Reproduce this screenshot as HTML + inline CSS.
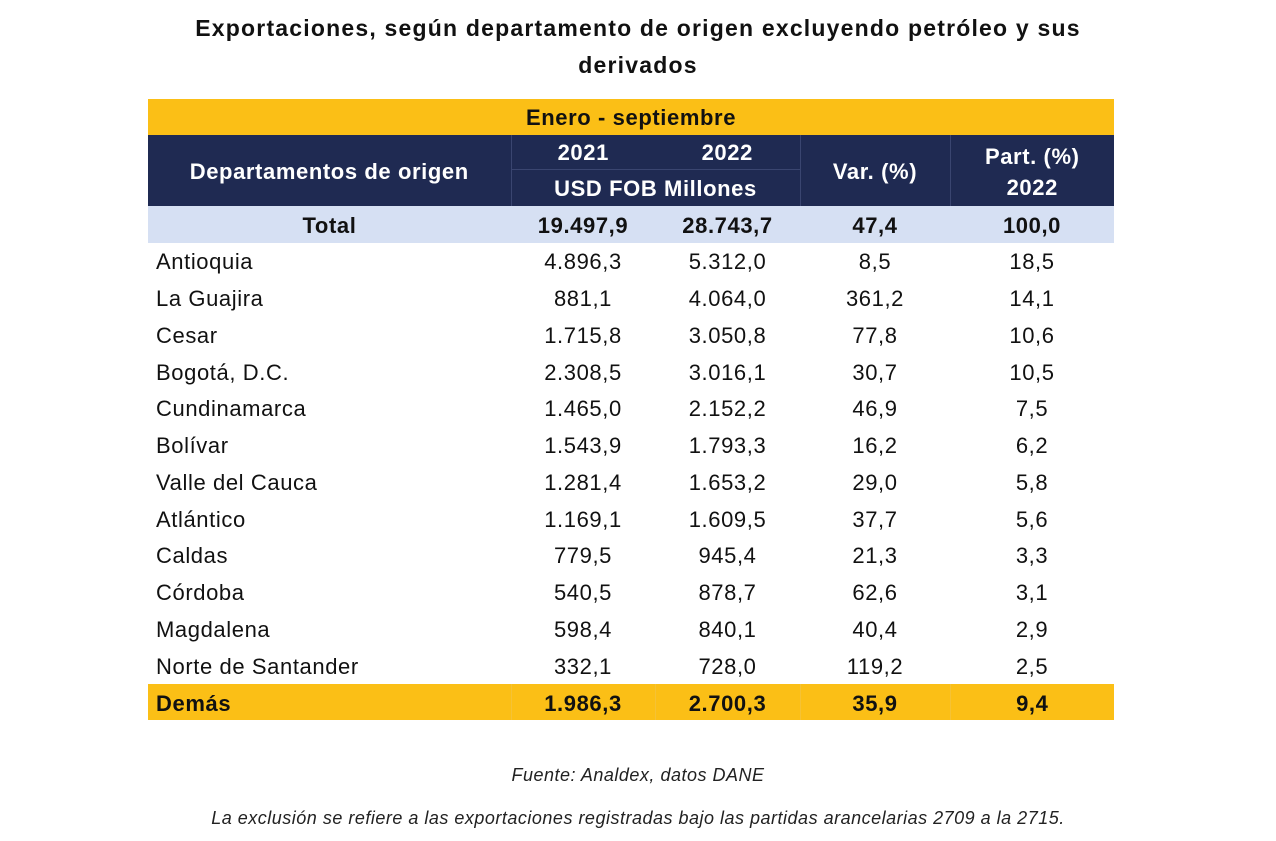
<!DOCTYPE html>
<html><head><meta charset="utf-8"><style>
body{margin:0;width:1276px;height:841px;background:#fff;font-family:"Liberation Sans",sans-serif;position:relative;overflow:hidden}
.title{position:absolute;left:0;width:1276px;top:10px;text-align:center;font-weight:bold;font-size:23px;letter-spacing:1.2px;line-height:37px;color:#111}
table{position:absolute;left:148px;top:99px;border-collapse:collapse;table-layout:fixed;width:966px}
td{padding:0;font-size:22px;letter-spacing:0.6px;color:#111;text-align:center;white-space:nowrap}
.yel td{background:#fbbf16;font-weight:bold;padding-top:2px}
.nav td{background:#1f2a52;color:#fff;font-weight:bold;border-left:1px solid #3a4570;padding-top:2px}
.nav td:first-child{border-left:none}
.tot td{background:#d6e0f3;font-weight:bold;height:35px;padding-top:2px}
.row td{height:34.75px;padding-top:2px}
.row td:first-child{text-align:left;padding-left:8px}
.dem td{background:#fbbf16;font-weight:bold;height:33px;padding-top:3px;border-left:1px solid #f5c235}
.dem td:first-child{text-align:left;padding-left:8px;border-left:none}
.foot{position:absolute;left:0;width:1276px;text-align:center;font-style:italic;font-size:18px;letter-spacing:0.5px;color:#222}
</style></head><body>
<div class="title">Exportaciones, según departamento de origen excluyendo petróleo y sus<br>derivados</div>
<table>
<colgroup><col style="width:363px"><col style="width:144px"><col style="width:145px"><col style="width:150px"><col style="width:164px"></colgroup>
<tr class="yel"><td colspan="5" style="height:34px">Enero - septiembre</td></tr>
<tr class="nav"><td rowspan="2" style="height:69px">Departamentos de origen</td><td style="height:32px;border-bottom:1px solid #3a4570">2021</td><td style="border-left:none;border-bottom:1px solid #3a4570">2022</td><td rowspan="2">Var. (%)</td><td rowspan="2" style="line-height:31px">Part. (%)<br>2022</td></tr>
<tr class="nav"><td colspan="2" style="height:34px;border-left:1px solid #3a4570">USD FOB Millones</td></tr>
<tr class="tot"><td>Total</td><td>19.497,9</td><td>28.743,7</td><td>47,4</td><td>100,0</td></tr>
<tbody id="body"></tbody>
<tr class="dem"><td>Demás</td><td>1.986,3</td><td>2.700,3</td><td>35,9</td><td>9,4</td></tr>
</table>
<div class="foot" style="top:765px">Fuente: Analdex, datos DANE</div>
<div class="foot" style="top:808px">La exclusión se refiere a las exportaciones registradas bajo las partidas arancelarias 2709 a la 2715.</div>
<script>
const departments=["Antioquia","La Guajira","Cesar","Bogotá, D.C.","Cundinamarca","Bolívar","Valle del Cauca","Atlántico","Caldas","Córdoba","Magdalena","Norte de Santander"];
const values2021=["4.896,3","881,1","1.715,8","2.308,5","1.465,0","1.543,9","1.281,4","1.169,1","779,5","540,5","598,4","332,1"];
const values2022=["5.312,0","4.064,0","3.050,8","3.016,1","2.152,2","1.793,3","1.653,2","1.609,5","945,4","878,7","840,1","728,0"];
const variation=["8,5","361,2","77,8","30,7","46,9","16,2","29,0","37,7","21,3","62,6","40,4","119,2"];
const share=["18,5","14,1","10,6","10,5","7,5","6,2","5,8","5,6","3,3","3,1","2,9","2,5"];
const body=document.getElementById('body');
departments.forEach((d,i)=>{
const tr=document.createElement('tr');tr.className='row';


[d,values2021[i],values2022[i],variation[i],share[i]].forEach(v=>{const td=document.createElement('td');td.textContent=v;tr.appendChild(td);});
body.appendChild(tr);});
</script>
</body></html>
